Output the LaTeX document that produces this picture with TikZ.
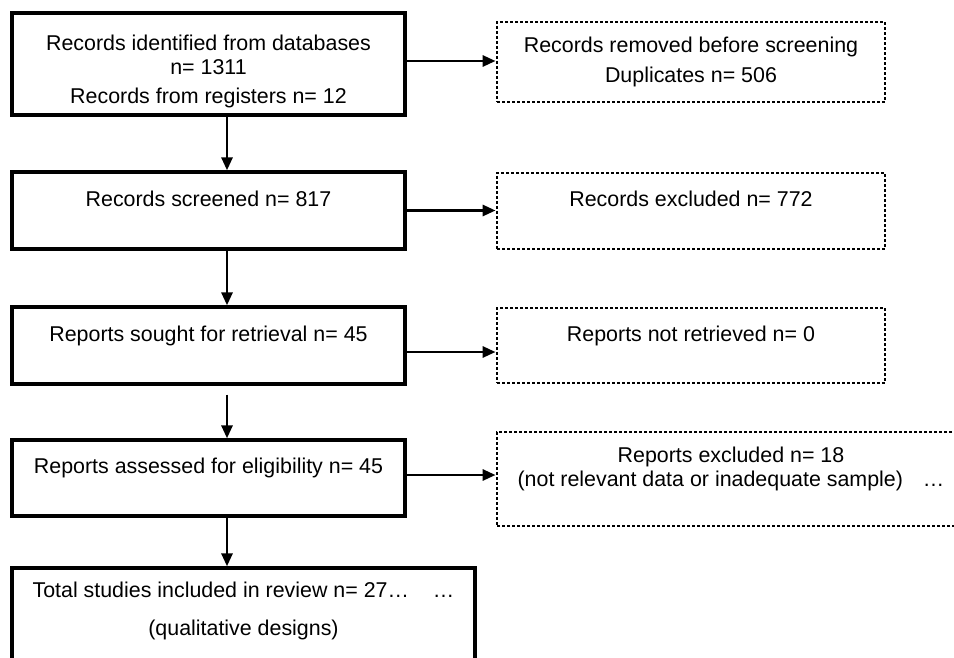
\documentclass[tikz,border=0pt]{standalone}
\usepackage{fontspec}
\setmainfont{Liberation Sans}
\usetikzlibrary{arrows.meta}
\usetikzlibrary{calc}
\tikzset{stage/.style={rectangle, draw, line width=3.3pt, minimum width=393pt, inner sep=0pt, align=center, font=\fontsize{21.4pt}{24pt}\selectfont}}
\tikzset{removed/.style={rectangle, draw, line width=2.8pt, dash pattern=on 2.6pt off 2.4pt, minimum width=388pt, inner sep=0pt, align=center, font=\fontsize{21.4pt}{24pt}\selectfont}}
\tikzset{flow/.style={line width=2.8pt, -{Triangle[length=13pt,width=11pt]}}}

\begin{document}
\begin{tikzpicture}[x=1pt,y=-1pt]
  \useasboundingbox (0,0) rectangle (954,658);
  \clip (0,0) rectangle (954,658);

  % main column
  \node[stage, minimum height=102pt] (b1) at (208.5,64) {\mbox{}\\[7pt]Records identified from databases\\ n= 1311\\[5pt] Records from registers n= 12};
  \node[stage, minimum height=77pt] (b2) at (208.5,210.5) {Records screened n= 817\\ \mbox{}};
  \node[stage, minimum height=77pt] (b3) at (208.5,345.5) {Reports sought for retrieval n= 45\\ \mbox{}};
  \node[stage, minimum height=76pt] (b4) at (208.5,478) {Reports assessed for eligibility n= 45\\ \mbox{}};
  \node[stage, minimum width=463pt, minimum height=120pt] (b5) at (243.5,628) {Total studies included in review n= 27…\hspace{24pt}…\\[14pt] (qualitative designs)\\[14pt] \mbox{}};

  % side column
  \node[removed, minimum height=80pt] (r1) at (691,62) {Records removed before screening\\[6pt] Duplicates n= 506};
  \node[removed, minimum height=76pt] (r2) at (691,211) {Records excluded n= 772\\ \mbox{}};
  \node[removed, minimum height=75pt] (r3) at (691,345.5) {Reports not retrieved n= 0\\ \mbox{}};
  \node[removed, minimum width=468pt, minimum height=94pt] (r4) at (731,479) {Reports excluded n= 18\\ (not relevant data or inadequate sample)\hspace{20pt}…\\ \mbox{}};

  \coordinate (spine) at (227,0);
  \foreach \u/\v/\gap in {
    b1/b2/0,
    b2/b3/0,
    b3/b4/9,
    b4/b5/0%
  }{
    \draw[flow] ($(\u.south -| spine)+(0,\gap)$) -- (\v.north -| spine);
  }
  \foreach \u/\v/\dy in {
    b1/r1/-3,
    b2/r2/0,
    b3/r3/6.5,
    b4/r4/-3%
  }{
    \draw[flow] ($(\u.east)+(0,\dy)$) -- ($(\u.east -| \v.west)+(0,\dy)$);
  }
\end{tikzpicture}
\end{document}
